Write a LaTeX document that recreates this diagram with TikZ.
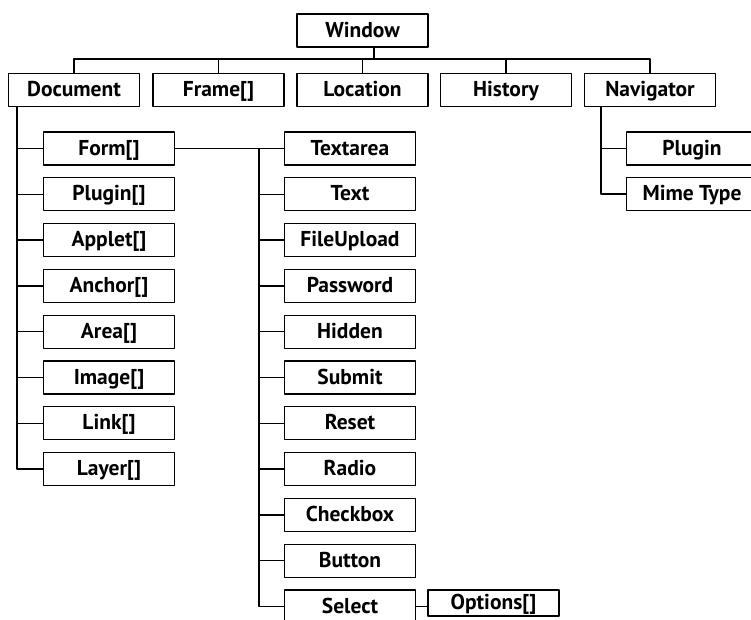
\documentclass[tikz,border=0pt]{standalone}
\usepackage{fontspec}
\setmainfont{PT Sans}
\tikzset{
  box/.style={draw, line width=1.3pt, minimum width=131pt, minimum height=33pt,
    inner sep=0pt, text height=15pt, text depth=2pt,
    font=\bfseries\fontsize{21.5}{21.5}\selectfont},
  link/.style={line width=1.3pt}
}
\begin{document}
\begin{tikzpicture}[x=1pt, y=-1pt, line join=round]
  \fill[white] (0,0) rectangle (751,619);
  \useasboundingbox (0,0) rectangle (751,619);
  % top level
  \node[box] (Window) at (362.5,30.5) {Window};
  \node[box] (Document) at (74,90) {Document};
  \node[box] (Frame) at (218.5,90) {Frame[]};
  \node[box] (Location) at (362.5,90) {Location};
  \node[box] (History) at (506,90) {History};
  \node[box] (Navigator) at (650,90) {Navigator};
  \coordinate (bus) at (374,59);
  \draw[link] (Window.south -| bus) -- (bus);
  \draw[link] (Document.north) -- (Document.north |- bus) -- (Navigator.north |- bus) -- (Navigator.north);
  \foreach \n in {Frame, Location, History}
    \draw[link] (\n.north) -- (\n.north |- bus);
  % document children
  \foreach \n/\t [count=\i from 0] in {Form/Form[], PluginArr/Plugin[], Applet/Applet[],
      Anchor/Anchor[], Area/Area[], Image/Image[], Link/Link[], Layer/Layer[]}
    \node[box] (\n) at (109,148.5+45.8*\i) {\t};
  \coordinate (dtrunk) at (17,107);
  \draw[link] (dtrunk) |- (Layer.west);
  \foreach \n in {Form, PluginArr, Applet, Anchor, Area, Image, Link}
    \draw[link] (\n.west) -- (\n.west -| dtrunk);
  % form elements
  \foreach \n [count=\i from 0] in {Textarea, Text, FileUpload, Password, Hidden,
      Submit, Reset, Radio, Checkbox, Button, Select}
    \node[box] (\n) at (350,148.5+45.8*\i) {\n};
  \coordinate (ftrunk) at (259,148.5);
  \draw[link] (Form.east) -- (Textarea.west);
  \draw[link] (ftrunk) |- (Select.west);
  \foreach \n in {Text, FileUpload, Password, Hidden, Submit, Reset, Radio, Checkbox, Button}
    \draw[link] (\n.west) -- (\n.west -| ftrunk);
  \node[box, minimum height=26pt] (Options) at (493.5,603) {Options[]};
  \draw[link] (Select.east) -- (Select.east -| Options.west);
  % navigator children
  \node[box] (Plugin) at (692,148.5) {Plugin};
  \node[box] (MimeType) at (692,194) {Mime Type};
  \coordinate (ntrunk) at (601,107);
  \draw[link] (ntrunk) |- (MimeType.west);
  \draw[link] (Plugin.west) -- (Plugin.west -| ntrunk);
\end{tikzpicture}
\end{document}
